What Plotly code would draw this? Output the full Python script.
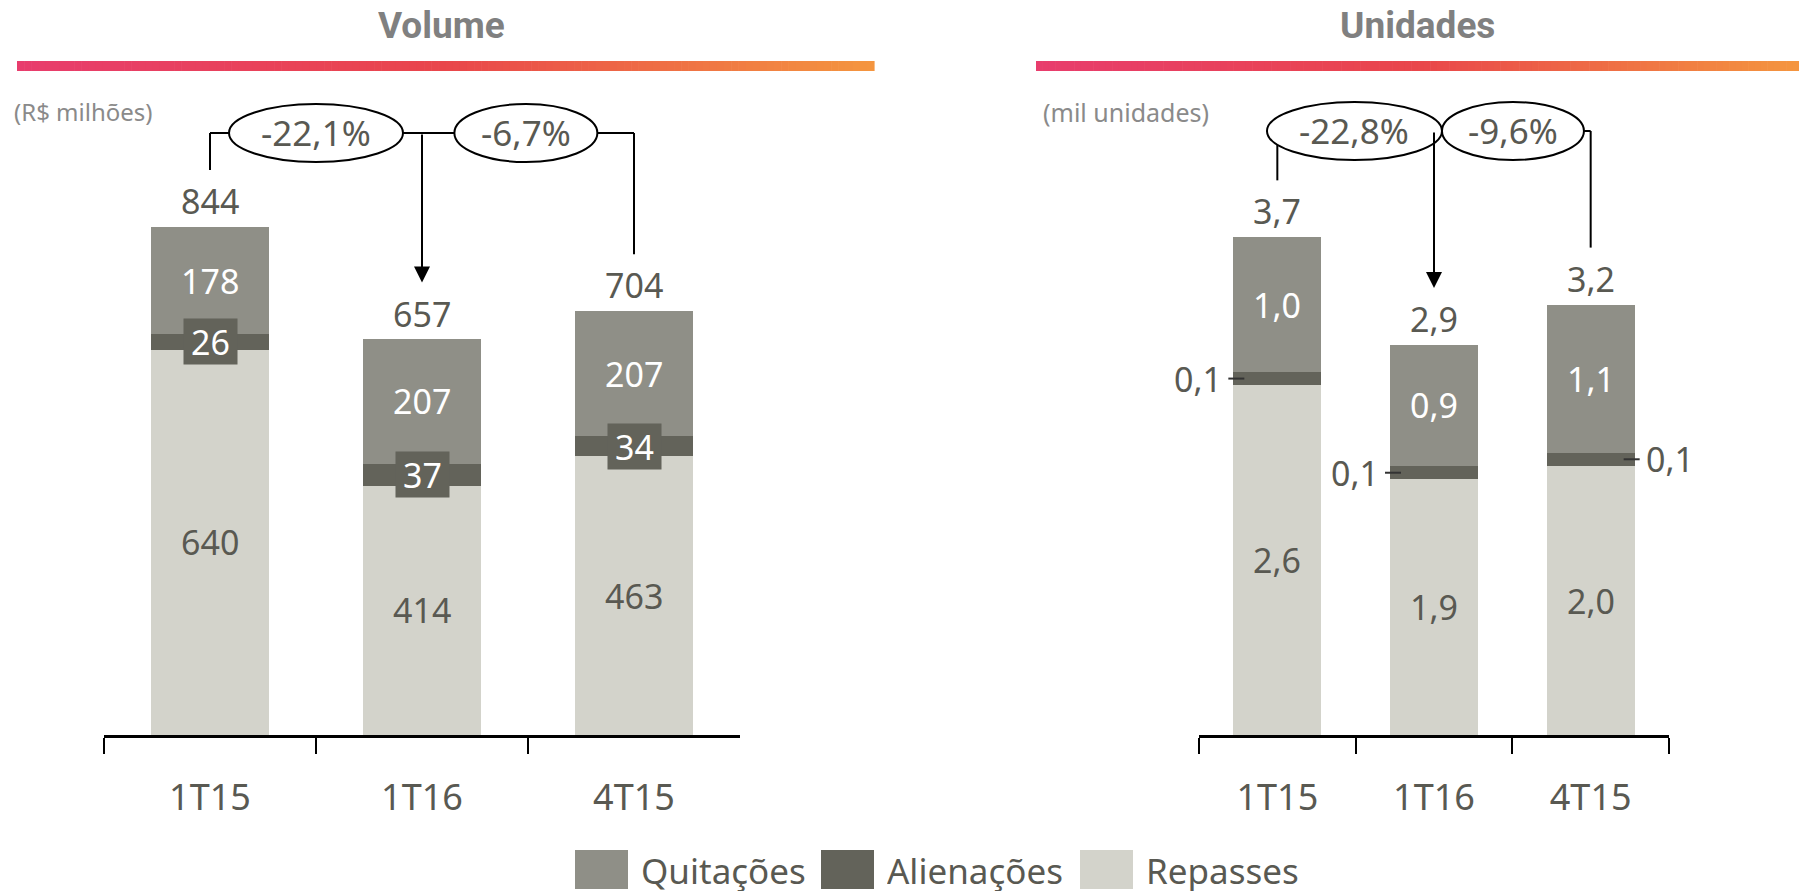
import plotly.graph_objects as go

# ---------------- data ----------------
categories = ["1T15", "1T16", "4T15"]

vol_repasses = [640, 414, 463]
vol_alienacoes = [26, 37, 34]
vol_quitacoes = [178, 207, 207]
vol_totals = [844, 657, 704]
vol_changes = ["-22,1%", "-6,7%"]

uni_repasses = [2.6, 1.9, 2.0]
uni_alienacoes = [0.1, 0.1, 0.1]
uni_quitacoes = [1.0, 0.9, 1.1]
uni_totals = [3.7, 2.9, 3.2]
uni_changes = ["-22,8%", "-9,6%"]

series_names = ["Quitações", "Alienações", "Repasses"]

# ---------------- style ----------------
OFF = 0
W, H = 1799, 893
C_QUIT = "#8f8f87"
C_ALIE = "#63635a"
C_REP = "#d3d3cb"
TXT = "#595952"
FONT = "Noto Sans"

AX_BOTTOM_PX = 735
AX_TOP_PX = 100
PLOT_H = AX_BOTTOM_PX - AX_TOP_PX
L_X0, L_X1 = 104, 740
R_X0, R_X1 = 1199, 1669
L_PXU = 0.6019          # px per unit, left
R_PXU = 134.5           # px per unit, right
L_RANGE = PLOT_H / L_PXU
R_RANGE = PLOT_H / R_PXU
L_CATW = (L_X1 - L_X0) / 3
R_CATW = (R_X1 - R_X0) / 3
BARW = 0.56


def fmt(v, dec):
    return f"{v:.{dec}f}".replace(".", ",")


def px(x):
    return (x - OFF) / W


def py(y):
    return 1 - (y - OFF) / H


fig = go.Figure()

for xa, ya, rep, ali, qui in [("x", "y", vol_repasses, vol_alienacoes, vol_quitacoes),
                              ("x2", "y2", uni_repasses, uni_alienacoes, uni_quitacoes)]:
    for name, vals, col in [("Repasses", rep, C_REP), ("Alienações", ali, C_ALIE), ("Quitações", qui, C_QUIT)]:
        fig.add_trace(go.Bar(x=categories, y=vals, name=name, marker=dict(color=col, line=dict(width=0)),
                             width=BARW, xaxis=xa, yaxis=ya, showlegend=False, hoverinfo="skip"))

annotations = []
shapes = []

# ---------- value labels ----------
def add_labels(xref, yref, rep, ali, qui, tot, dec):
    for i, c in enumerate(categories):
        annotations.append(dict(x=i, y=rep[i] / 2, xref=xref, yref=yref, text=fmt(rep[i], dec), showarrow=False,
                                xanchor="center", yanchor="middle", font=dict(family=FONT, size=34, color=TXT)))
        annotations.append(dict(x=i, y=rep[i] + ali[i] + qui[i] / 2, xref=xref, yref=yref, text=fmt(qui[i], dec),
                                showarrow=False, xanchor="center", yanchor="middle",
                                font=dict(family=FONT, size=34, color="white")))
        annotations.append(dict(x=i, y=tot[i], xref=xref, yref=yref, text=fmt(tot[i], dec), showarrow=False,
                                xanchor="center", yanchor="middle", yshift=26,
                                font=dict(family=FONT, size=34, color=TXT)))


add_labels("x", "y", vol_repasses, vol_alienacoes, vol_quitacoes, vol_totals, 0)
add_labels("x2", "y2", uni_repasses, uni_alienacoes, uni_quitacoes, uni_totals, 1)

# alienacoes boxes (left)
for i in range(3):
    annotations.append(dict(x=i, y=vol_repasses[i] + vol_alienacoes[i] / 2, xref="x", yref="y",
                            text=fmt(vol_alienacoes[i], 0), showarrow=False, bgcolor=C_ALIE,
                            width=53, height=45, borderpad=0, xanchor="center", yanchor="middle",
                            font=dict(family=FONT, size=34, color="white")))

# alienacoes outside labels (right)
alien_side = [-1, -1, 1]
for i in range(3):
    s = alien_side[i]
    yv = uni_repasses[i] + uni_alienacoes[i] / 2
    annotations.append(dict(x=i, y=yv, xref="x2", yref="y2", text=fmt(uni_alienacoes[i], 1), showarrow=False,
                            xshift=s * 79, xanchor="center", yanchor="middle",
                            font=dict(family=FONT, size=34, color=TXT)))
    shapes.append(dict(type="line", xref="x2", yref="y2", x0=i + s * 33 / R_CATW, x1=i + s * 49 / R_CATW,
                       y0=yv, y1=yv, line=dict(color="#333333", width=2)))

# ---------- brackets ----------
def brackets(xref, yref, tot, pxu, top_px, changes, ell_cx, ell_w, catw):
    top = (AX_BOTTOM_PX - top_px) / pxu
    ends = [t + 57 / pxu for t in tot]
    line = dict(color="black", width=2)
    shapes.append(dict(type="line", xref=xref, yref=yref, x0=0, x1=2, y0=top, y1=top, line=line))
    shapes.append(dict(type="line", xref=xref, yref=yref, x0=0, x1=0, y0=top, y1=ends[0], line=line))
    shapes.append(dict(type="line", xref=xref, yref=yref, x0=2, x1=2, y0=top, y1=ends[2], line=line))
    annotations.append(dict(x=1, y=ends[1], ax=1, ay=top, xref=xref, yref=yref, axref=xref, ayref=yref,
                            text="", showarrow=True, arrowhead=2, arrowsize=1.6, arrowwidth=2,
                            arrowcolor="black", standoff=0, startstandoff=0))
    hh = 29 / pxu
    for k in range(2):
        hw = ell_w[k] / 2 / catw
        shapes.append(dict(type="circle", xref=xref, yref=yref, x0=ell_cx[k] - hw, x1=ell_cx[k] + hw,
                           y0=top - hh, y1=top + hh, fillcolor="white", line=line))
        annotations.append(dict(x=ell_cx[k], y=top, xref=xref, yref=yref, text=changes[k], showarrow=False,
                                xanchor="center", yanchor="middle", font=dict(family=FONT, size=35, color=TXT)))


brackets("x", "y", vol_totals, L_PXU, 133, vol_changes, [0.5, 1.49], [174, 143], L_CATW)
brackets("x2", "y2", uni_totals, R_PXU, 131, uni_changes, [0.4925, 1.504], [175, 142], R_CATW)

# ---------- titles and gradient bars ----------
def lerp_hex(stops, t):
    for j in range(len(stops) - 1):
        t0, c0 = stops[j]
        t1, c1 = stops[j + 1]
        if t <= t1:
            f = (t - t0) / (t1 - t0)
            a = [int(c0[k:k + 2], 16) for k in (1, 3, 5)]
            b = [int(c1[k:k + 2], 16) for k in (1, 3, 5)]
            return "#" + "".join(f"{round(a[m] + (b[m] - a[m]) * f):02x}" for m in range(3))
    return stops[-1][1]


grad = [(0.0, "#e83d6d"), (0.5, "#e9464b"), (1.0, "#f4963f")]
N = 120
for gx0, gx1 in [(17, 874), (1036, 1799)]:
    step = (gx1 - gx0) / N
    for n in range(N):
        shapes.append(dict(type="rect", xref="paper", yref="paper", x0=px(gx0 + n * step),
                           x1=px(gx0 + (n + 1) * step + 0.6), y0=py(71), y1=py(61),
                           fillcolor=lerp_hex(grad, (n + 0.5) / N), line=dict(width=0), layer="below"))

for tx, tt in [(441, "Volume"), (1417, "Unidades")]:
    annotations.append(dict(x=px(tx), y=py(25), xref="paper", yref="paper", text=f"<b>{tt}</b>",
                            showarrow=False, xanchor="center", yanchor="middle", height=42,
                            font=dict(family="Roboto", size=37, color="#808080")))

for tx, tt, fs in [(12, "(R$ milhões)", 24), (1041, "(mil unidades)", 25)]:
    annotations.append(dict(x=px(tx), y=py(112), xref="paper", yref="paper", text=tt, xanchor="left",
                            yanchor="middle", showarrow=False, font=dict(family=FONT, size=fs, color="#8a8a8a")))

# ---------- legend ----------
leg_x = [575, 821, 1080]
leg_cols = [C_QUIT, C_ALIE, C_REP]
for lx, nm, col in zip(leg_x, series_names, leg_cols):
    shapes.append(dict(type="rect", xref="paper", yref="paper", x0=px(lx), x1=px(lx + 53), y0=py(889),
                       y1=py(850), fillcolor=col, line=dict(width=0)))
    annotations.append(dict(x=px(lx + 64), y=py(870), xref="paper", yref="paper", text=nm, xanchor="left",
                            yanchor="middle", height=42, showarrow=False,
                            font=dict(family=FONT, size=35, color=TXT)))

axis_common = dict(type="category", range=[-0.5, 2.5], showline=True, linecolor="black", linewidth=3,
                   ticks="outside", tickson="boundaries", ticklen=16, tickwidth=1.5, tickcolor="black",
                   tickfont=dict(family=FONT, size=36, color=TXT), ticklabelstandoff=29,
                   showgrid=False, zeroline=False, fixedrange=True)

fig.update_layout(
    width=W, height=H, margin=dict(l=0, r=0, t=0, b=0),
    paper_bgcolor="white", plot_bgcolor="white", barmode="stack", showlegend=False,
    xaxis=dict(domain=[px(L_X0), px(L_X1)], anchor="y", **axis_common),
    xaxis2=dict(domain=[px(R_X0), px(R_X1)], anchor="y2", **axis_common),
    yaxis=dict(domain=[py(AX_BOTTOM_PX), py(AX_TOP_PX)], range=[0, L_RANGE], visible=False, fixedrange=True),
    yaxis2=dict(domain=[py(AX_BOTTOM_PX), py(AX_TOP_PX)], range=[0, R_RANGE], visible=False, fixedrange=True,
                anchor="x2"),
    annotations=annotations, shapes=shapes,
)

fig.write_html("out.html", config={"displayModeBar": False},
               post_script="document.body.style.margin='0';document.body.style.overflow='hidden';")
